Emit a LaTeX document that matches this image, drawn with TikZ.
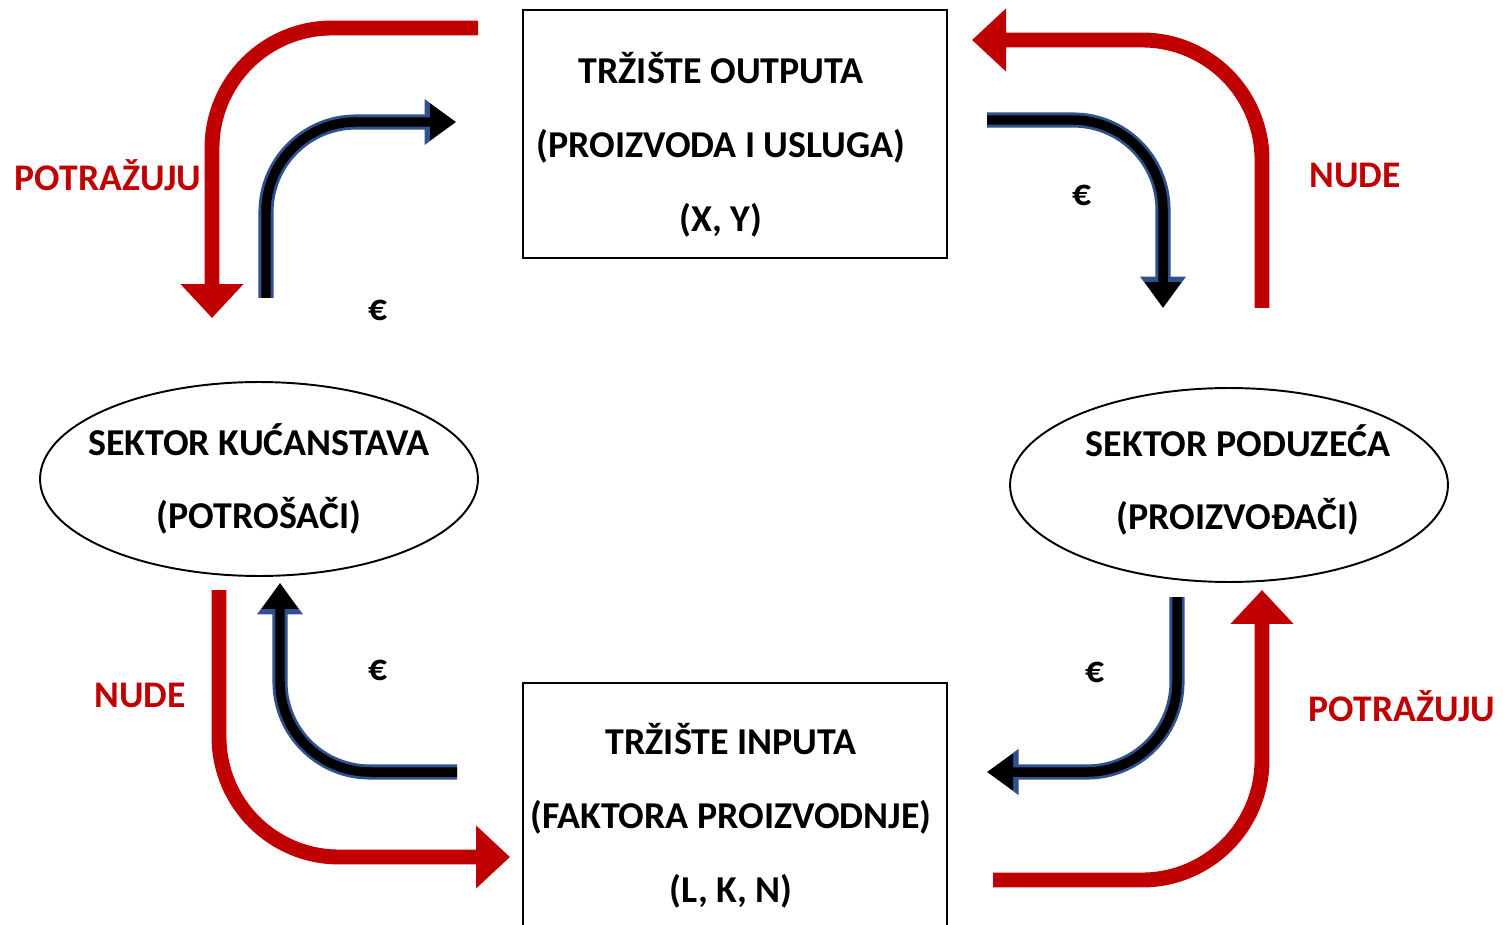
\documentclass[tikz,border=0pt]{standalone}
\usepackage{fontspec}
\setmainfont{Carlito}
\usetikzlibrary{arrows.meta, shapes.geometric}
\definecolor{flowred}{RGB}{192,0,0}
\definecolor{moneyblue}{RGB}{47,82,143}

\tikzset{
    market/.style={draw, line width=1.1pt, minimum width=8.48cm, minimum height=4.96cm},
    sector/.style={draw, ellipse, line width=1.1pt, minimum width=8.76cm, minimum height=3.88cm},
    boxtext/.style={align=center, font=\fontsize{21.6}{42}\selectfont\bfseries},
    goods/.style={draw=flowred, line width=8.5pt, rounded corners=2.4cm,
        -{Triangle[width=1.22cm, length=0.68cm]}},
    money/.style={draw=black, line width=5.4pt, rounded corners=1.8cm,
        -{Triangle[width=0.7cm, length=0.52cm]},
        preaction={draw=moneyblue, line width=8.6pt, -{Triangle[width=0.88cm, length=0.63cm]}}},
    flowlabel/.style={text=flowred, font=\fontsize{21.4}{24}\selectfont\bfseries},
    eurolabel/.style={font=\fontsize{21.4}{24}\selectfont\bfseries}
}

\begin{document}
\begin{tikzpicture}[x=0.02cm, y=-0.02cm]
    \useasboundingbox (0,0) rectangle (1503,925);
    \clip (0,0) rectangle (1503,925);

    % Markets and sectors
    \node[market, label={[boxtext, xshift=-0.28cm, yshift=-0.22cm]center:{TRŽIŠTE OUTPUTA\\(PROIZVODA I USLUGA)\\(X, Y)}}] (outmarket) at (735,134) {};
    \node[market, label={[boxtext, xshift=-0.08cm, yshift=-0.18cm]center:{TRŽIŠTE INPUTA\\(FAKTORA PROIZVODNJE)\\(L, K, N)}}] (inmarket) at (735,807) {};
    \node[sector, label={[boxtext]center:{SEKTOR KUĆANSTAVA\\(POTROŠAČI)}}] (households) at (259,479) {};
    \node[sector, label={[boxtext, xshift=0.18cm, yshift=0.1cm]center:{SEKTOR PODUZEĆA\\(PROIZVOĐAČI)}}] (firms) at (1229,485) {};

    % Flow end points
    \coordinate (dem1s) at (478,28);    \coordinate (dem1e) at (212,318);
    \coordinate (pay1s) at (266,298);   \coordinate (pay1e) at (456,122);
    \coordinate (sup1s) at (1262,308);  \coordinate (sup1e) at (972,40);
    \coordinate (pay2s) at (987,120);   \coordinate (pay2e) at (1163,308);
    \coordinate (sup2s) at (219,590);   \coordinate (sup2e) at (510,857);
    \coordinate (pay3s) at (457,772);   \coordinate (pay3e) at (280,583);
    \coordinate (pay4s) at (1177,597);  \coordinate (pay4e) at (987,772);
    \coordinate (dem2s) at (993,880);   \coordinate (dem2e) at (1262,590);

    % Real flows
    \draw[goods] (dem1s) -| (dem1e);
    \draw[goods] (sup1s) |- (sup1e);
    \draw[goods] (sup2s) |- (sup2e);
    \draw[goods] (dem2s) -| (dem2e);

    % Money flows
    \draw[money] (pay1s) |- (pay1e);
    \draw[money] (pay2s) -| (pay2e);
    \draw[money] (pay3s) -| (pay3e);
    \draw[money] (pay4s) |- (pay4e);

    % Labels
    \node[flowlabel] (demlabel1) at (108,175) {POTRAŽUJU};
    \node[flowlabel] (suplabel1) at (1355,175) {NUDE};
    \node[flowlabel] (suplabel2) at (140,695) {NUDE};
    \node[flowlabel] (demlabel2) at (1402,706) {POTRAŽUJU};
    \node[eurolabel] (euro1) at (378,310) {€};
    \node[eurolabel] (euro2) at (1082,195) {€};
    \node[eurolabel] (euro3) at (378,670) {€};
    \node[eurolabel] (euro4) at (1095,672) {€};
\end{tikzpicture}
\end{document}
